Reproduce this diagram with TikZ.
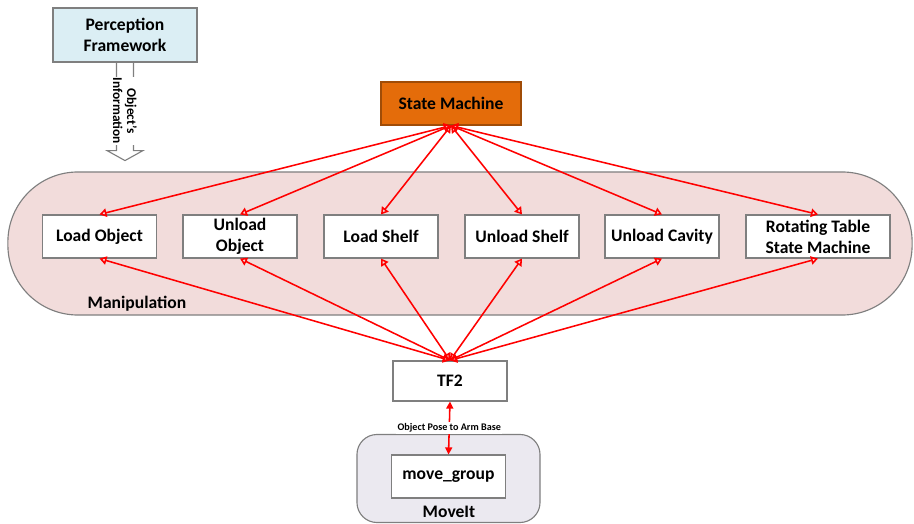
\documentclass[tikz,border=0pt]{standalone}
\usepackage{fontspec}
\setmainfont{Carlito}
\usetikzlibrary{arrows.meta,positioning,calc}
\definecolor{bordgris}{HTML}{7F7F7F}
\definecolor{fondperception}{HTML}{DBEEF4}
\definecolor{fondetat}{HTML}{E46C0A}
\definecolor{fondmanip}{HTML}{F2DCDB}
\definecolor{fondmoveit}{HTML}{EBE9F0}

\begin{document}
\begin{tikzpicture}[x=0.025cm,y=-0.025cm]
\tikzstyle{fleche}=[{Triangle[open,length=5pt,width=6pt]}-{Triangle[open,length=5pt,width=6pt]},draw=red,line width=1.1pt]
\tikzstyle{flechepleine}=[{Triangle[length=5pt,width=5pt]}-{Triangle[length=5pt,width=5pt]},draw=red,fill=red,line width=1.1pt]
\tikzstyle{texte}=[font=\fontsize{12.5}{15}\selectfont\bfseries,align=center]
\tikzstyle{boite}=[texte,draw=bordgris,fill=white,line width=0.8pt,inner sep=2pt]
\tikzstyle{module}=[boite,minimum width=2.85cm,minimum height=1.075cm]
\tikzstyle{groupe}=[draw=bordgris,line width=0.8pt]
\useasboundingbox (0,0) rectangle (914,524);
% groupes
\node[groupe,fill=fondmanip,rounded corners=1.75cm,minimum width=22.6cm,minimum height=3.575cm] (manip) at (460,243.5) {};
\node[texte] (manipLabel) at (137,304) {Manipulation};
\node[groupe,fill=fondmoveit,rounded corners=0.5cm,minimum width=4.575cm,minimum height=2.2cm] (moveit) at (448.5,478.5) {};
\node[texte] (moveitLabel) at (449,512) {MoveIt};
% boites
\node[boite,fill=fondperception,minimum width=3.6cm,minimum height=1.35cm] (perc) at (125,35) {Perception\\Framework};
\node[boite,fill=fondetat,draw=fondetat!70!black,minimum width=3.5cm,minimum height=1.075cm] (etat) at (451,103.5) {State Machine};
\node[module] (loadObj) at (99.5,236.5) {Load Object};
\node[module] (unloadObj) at (240,236.5) {Unload\\Object};
\node[module] (loadShelf) at (381,236.5) {Load Shelf};
\node[module] (unloadShelf) at (522,236.5) {Unload Shelf};
\node[module] (unloadCav) at (662,236.5) {Unload Cavity};
\node[module,minimum width=3.6cm] (rotTable) at (818,236.5) {Rotating Table\\State Machine};
\node[module,minimum height=1cm] (tf) at (450,381) {TF2};
\node[module] (mg) at (448.5,476.5) {move\_group};
% fleche creuse
\draw[groupe] ($(perc.south)+(-8.5,0)$) -- ++(0,88) -- ++(-9.5,0) -- ($(perc.south)+(0,98)$)
  -- ++(18,-10) -- ++(-9.5,0) -- ++(0,-88);
\node[fill=white,rotate=-90,inner sep=1pt,align=center,font=\fontsize{9.5}{10}\selectfont\bfseries] (info) at (125,111) {Object's\\Information};
% liens
\draw[fleche] (etat.south)--(loadObj.north);
\draw[fleche] (etat.south)--(unloadObj.north);
\draw[fleche] (etat.south)--(loadShelf.north);
\draw[fleche] (etat.south)--(unloadShelf.north);
\draw[fleche] (etat.south)--(unloadCav.north);
\draw[fleche] (etat.south)--(rotTable.north);
\draw[fleche] (loadObj.south)--(tf.north);
\draw[fleche] (unloadObj.south)--(tf.north);
\draw[fleche] (loadShelf.south)--(tf.north);
\draw[fleche] (unloadShelf.south)--(tf.north);
\draw[fleche] (unloadCav.south)--(tf.north);
\draw[fleche] (rotTable.south)--(tf.north);
\draw[flechepleine] (tf.south)--(mg.north) node[midway,fill=white,inner sep=1pt,font=\fontsize{7.2}{8}\selectfont\bfseries] (pose) {Object Pose to Arm Base};
\end{tikzpicture}
\end{document}
